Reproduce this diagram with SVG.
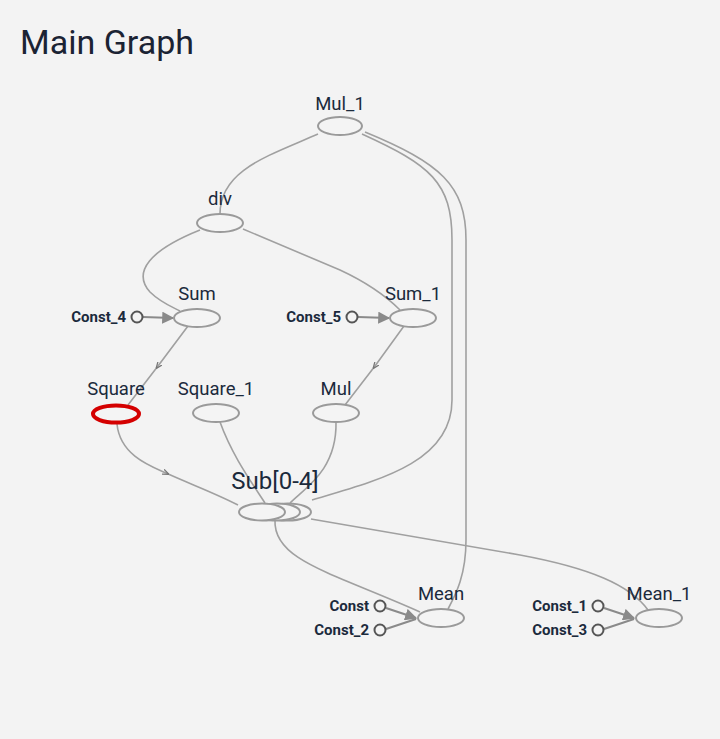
<svg xmlns="http://www.w3.org/2000/svg" width="720" height="739" viewBox="0 0 720 739">
<defs>
<style>
.n{fill:#f4f4f4;stroke:#9a9a9a;stroke-width:2}
.c{fill:#f4f4f4;stroke:#555;stroke-width:2}
.lb{font-family:Roboto,"Liberation Sans",sans-serif;font-size:18.5px;fill:#1b2a3c;text-anchor:middle}
.cl{font-family:Roboto,"Liberation Sans",sans-serif;font-size:15px;font-weight:bold;fill:#1b2a3c;text-anchor:end}
.e{fill:none;stroke:#a0a0a0;stroke-width:1.6}
.ec{fill:none;stroke:#8a8a8a;stroke-width:2}
</style>
<marker id="ah" viewBox="0 0 10 10" refX="9" refY="5" markerWidth="6" markerHeight="6" orient="auto">
<path d="M0,0 L10,5 L0,10 z" fill="#8a8a8a"/>
</marker>
<marker id="sm" viewBox="0 0 10 10" refX="5" refY="5" markerWidth="4" markerHeight="4" orient="auto">
<path d="M0,1 L10,5 L0,9" fill="none" stroke="#777" stroke-width="2"/>
</marker>
</defs>
<rect width="720" height="739" fill="#f3f3f3"/>
<text x="20" y="54" font-family="Roboto,'Liberation Sans',sans-serif" font-size="34" fill="#1b2333">Main Graph</text>
<g id="connectors">
<path class="e" d="M318,134 C268,156 220,170 220,214"/>
<path class="e" d="M362,134 C430,165 452,182 452,240 L452,400 C452,462 380,480 312,500"/>
<path class="e" d="M365,132 C440,163 466,185 466,240 L466,540 C466,575 456,594 448,609"/>
<path class="e" d="M200,230 C150,250 132,272 150,292 C160,302 170,306 180,311"/>
<path class="e" d="M243,229 L340,270 C368,283 386,296 400,310"/>
<path class="e" d="M188,326 L158,366 L128,405" marker-mid="url(#sm)"/>
<path class="e" d="M404,326 L375,366 L345,405" marker-mid="url(#sm)"/>
<path class="e" d="M117,424 C120,455 150,466 166,473 C190,484 215,493 238,505" marker-mid="url(#sm)"/>
<path class="e" d="M220,422 C232,455 250,480 265,503"/>
<path class="e" d="M336,422 C337,470 305,488 290,503"/>
<path class="e" d="M275,520 C273,560 330,572 420,612"/>
<path class="e" d="M311,519 L520,555 C590,568 630,585 648,610"/>
<path class="ec" d="M143,317 L173,318" marker-end="url(#ah)"/>
<path class="ec" d="M358,317 L389,318" marker-end="url(#ah)"/>
<path class="ec" d="M386,608 L416,618" marker-end="url(#ah)"/>
<path class="ec" d="M386,629 L416,619"/>
<path class="ec" d="M604,608 L634,618" marker-end="url(#ah)"/>
<path class="ec" d="M604,629 L634,619"/>
</g>
<g id="Mul_1"><ellipse class="n" cx="340" cy="126" rx="22" ry="9"/><text class="lb" x="340" y="110">Mul_1</text></g>
<g id="div"><ellipse class="n" cx="220" cy="223" rx="23" ry="9"/><text class="lb" x="220" y="205">div</text></g>
<g id="Sum"><ellipse class="n" cx="197" cy="318" rx="23" ry="9"/><text class="lb" x="197" y="300">Sum</text></g>
<g id="Sum_1"><ellipse class="n" cx="413" cy="318" rx="23" ry="9"/><text class="lb" x="413" y="300">Sum_1</text></g>
<g id="Const_4"><circle class="c" cx="137" cy="317" r="5.5"/><text class="cl" x="126" y="322">Const_4</text></g>
<g id="Const_5"><circle class="c" cx="352" cy="317" r="5.5"/><text class="cl" x="341" y="322">Const_5</text></g>
<g id="Square"><ellipse cx="116" cy="414" rx="23" ry="8.5" fill="#f4f4f4" stroke="#d40000" stroke-width="4"/><text class="lb" x="116" y="395">Square</text></g>
<g id="Square_1"><ellipse class="n" cx="216" cy="413" rx="23" ry="9"/><text class="lb" x="216" y="395">Square_1</text></g>
<g id="Mul"><ellipse class="n" cx="336" cy="413" rx="23" ry="9"/><text class="lb" x="336" y="395">Mul</text></g>
<g id="Sub_0-4">
<ellipse class="n" cx="288" cy="512" rx="23" ry="8.5"/>
<ellipse class="n" cx="277" cy="512" rx="23" ry="8.5"/>
<ellipse class="n" cx="262" cy="512" rx="23" ry="8.5"/>
<text class="lb" x="275" y="489" style="font-size:24px">Sub[0-4]</text></g>
<g id="Mean"><ellipse class="n" cx="441" cy="618" rx="23" ry="9"/><text class="lb" x="441" y="600">Mean</text></g>
<g id="Mean_1"><ellipse class="n" cx="659" cy="618" rx="23" ry="9"/><text class="lb" x="659" y="600">Mean_1</text></g>
<g id="Const"><circle class="c" cx="380" cy="606" r="5.5"/><text class="cl" x="369" y="611">Const</text></g>
<g id="Const_2"><circle class="c" cx="380" cy="630" r="5.5"/><text class="cl" x="369" y="635">Const_2</text></g>
<g id="Const_1"><circle class="c" cx="598" cy="606" r="5.5"/><text class="cl" x="587" y="611">Const_1</text></g>
<g id="Const_3"><circle class="c" cx="598" cy="630" r="5.5"/><text class="cl" x="587" y="635">Const_3</text></g>
</svg>
